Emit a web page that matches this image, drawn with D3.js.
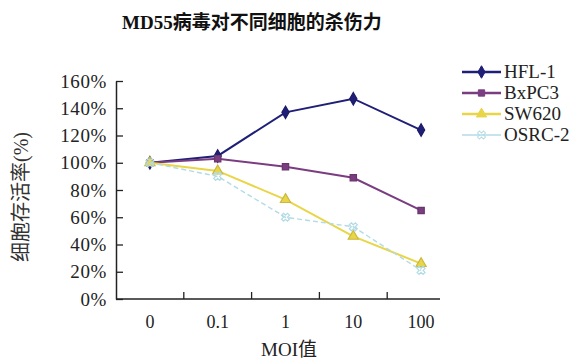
<!DOCTYPE html>
<html><head><meta charset="utf-8">
<script src="https://cdn.jsdelivr.net/npm/d3@7"></script>
<style>body{margin:0;background:#fff}svg{display:block}</style>
</head><body>
<svg id="c" width="581" height="363"></svg>
<script>
const categories = ["0","0.1","1","10","100"];
const seriesNames = ["HFL-1","BxPC3","SW620","OSRC-2"];
const hfl1   = [100,105,137,147,124];
const bxpc3  = [100,103,97,89,65];
const sw620  = [100,94,73,46,26];
const osrc2  = [100,90,60,53,21];
const yTicks = [0,20,40,60,80,100,120,140,160];
const colors = ["#1f1f78","#7a3d80","#e9d548","#b3dbe6"];
const symbols = [d3.symbolDiamond, d3.symbolSquare, d3.symbolTriangle, d3.symbolCross];
const seriesValues = [hfl1,bxpc3,sw620,osrc2];

const svg = d3.select("#c");
const serif = "Liberation Serif, Times New Roman, serif";
const cjk = "Noto Sans CJK SC, sans-serif";

const x = d3.scaleBand().domain(categories).range([116,455]);
const y = d3.scaleLinear().domain([0,160]).range([299,81]);

// title
const t = svg.append("text").attr("x",122).attr("y",29).attr("font-size",19).attr("font-weight","bold").attr("fill","#111");
t.append("tspan").attr("font-family",serif).text("MD55");
t.append("tspan").attr("font-family",cjk).text("病毒对不同细胞的杀伤力");

// y axis
const ya = svg.append("g").attr("transform","translate(116,0)")
  .call(d3.axisLeft(y).tickValues(yTicks).tickFormat(d=>d+"%").tickSizeInner(-7).tickSizeOuter(0).tickPadding(9));
ya.attr("font-family",serif);
ya.select(".domain").attr("stroke","#222").attr("stroke-width",1.5);
ya.selectAll(".tick line").attr("stroke","#222").attr("stroke-width",1.3);
ya.selectAll("text").attr("font-family",serif).attr("font-size",19).attr("letter-spacing",0.6).attr("fill","#222");

// x axis
const xa = svg.append("g").attr("transform","translate(0,299)")
  .call(d3.axisBottom(x).tickSize(0).tickPadding(16));
xa.attr("font-family",serif);
xa.select(".domain").remove();
xa.selectAll("text").attr("font-family",serif).attr("font-size",18).attr("fill","#222");
svg.append("line").attr("x1",116).attr("x2",440).attr("y1",299).attr("y2",299).attr("stroke","#222").attr("stroke-width",1.5);
categories.slice(1).forEach(c=>{
  svg.append("line").attr("x1",x(c)).attr("x2",x(c)).attr("y1",299).attr("y2",292).attr("stroke","#222").attr("stroke-width",1.3);
});

// axis titles
svg.append("text").attr("transform","translate(28,197) rotate(-90)").attr("text-anchor","middle")
  .attr("font-size",20).attr("fill","#333")
  .html(`<tspan font-family="${cjk}">细胞存活率</tspan><tspan font-family="${serif}">(%)</tspan>`);
const xt = svg.append("text").attr("x",289).attr("y",356).attr("text-anchor","middle").attr("font-size",19).attr("fill","#222");
xt.append("tspan").attr("font-family",serif).text("MOI");
xt.append("tspan").attr("font-family",cjk).text("值");

// series
const line = d3.line().x((d,i)=>x(categories[i])+x.bandwidth()/2).y(d=>y(d));
const sizes = [45,40,45,40];
seriesValues.forEach((vals,k)=>{
  const g = svg.append("g");
  g.append("path").attr("d",line(vals)).attr("fill","none").attr("stroke",colors[k])
    .attr("stroke-width",k===3?1.4:2).attr("stroke-dasharray",k===3?"5,3":null);
  vals.forEach((v,i)=>{
    const px = x(categories[i])+x.bandwidth()/2, py = y(v);
    g.append("path").attr("d",d3.symbol().type(symbols[k]).size(sizes[k])())
      .attr("transform",`translate(${px},${py})`+(k===3?" rotate(45)":""))
      .attr("fill",k===3?"none":colors[k]).attr("stroke",k===3?colors[k]:d3.color(colors[k]).darker(0.4)).attr("stroke-width",1.2);
  });
});

// legend
const ly = [72,93,114,135];
seriesNames.forEach((n,k)=>{
  const g = svg.append("g").attr("transform",`translate(462,${ly[k]})`);
  g.append("line").attr("x1",0).attr("x2",39).attr("stroke",colors[k]).attr("stroke-width",k===3?1.4:2.5);
  g.append("path").attr("d",d3.symbol().type(symbols[k]).size(sizes[k])())
    .attr("transform",`translate(19.5,0)`+(k===3?" rotate(45)":""))
    .attr("fill",k===3?"none":colors[k]).attr("stroke",colors[k]);
  g.append("text").attr("x",42).attr("y",6).attr("font-family",serif).attr("font-size",19).attr("fill","#222").text(n);
});
</script>
</body></html>
